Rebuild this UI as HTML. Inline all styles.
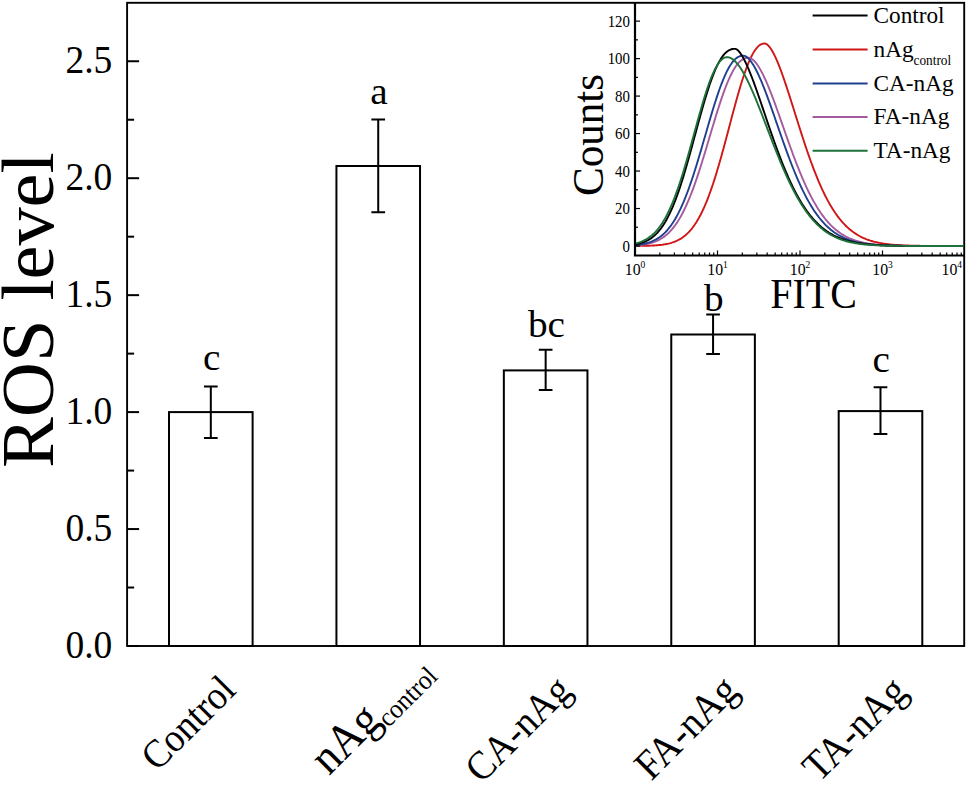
<!DOCTYPE html><html><head><meta charset="utf-8"><style>html,body{margin:0;padding:0;background:#fff;overflow:hidden;}svg{display:block;}text{font-family:"Liberation Serif",serif;fill:#000;}</style></head><body>
<svg width="968" height="785" viewBox="0 0 968 785">
<rect x="0" y="0" width="968" height="785" fill="#fff"/>
<rect x="169.01" y="412.10" width="83.60" height="233.90" fill="none" stroke="#000" stroke-width="2"/>
<rect x="336.43" y="166.00" width="83.60" height="480.00" fill="none" stroke="#000" stroke-width="2"/>
<rect x="503.85" y="370.40" width="83.60" height="275.60" fill="none" stroke="#000" stroke-width="2"/>
<rect x="671.27" y="334.50" width="83.60" height="311.50" fill="none" stroke="#000" stroke-width="2"/>
<rect x="838.69" y="411.10" width="83.60" height="234.90" fill="none" stroke="#000" stroke-width="2"/>
<rect x="127.1" y="2.8" width="837.10" height="643.20" fill="none" stroke="#000" stroke-width="1.9"/>
<path d="M210.81 386.50V438.00M203.96 386.50H217.66M203.96 438.00H217.66" stroke="#000" stroke-width="2" fill="none"/>
<path d="M378.23 119.50V212.20M371.38 119.50H385.08M371.38 212.20H385.08" stroke="#000" stroke-width="2" fill="none"/>
<path d="M545.65 349.70V390.10M538.80 349.70H552.50M538.80 390.10H552.50" stroke="#000" stroke-width="2" fill="none"/>
<path d="M713.07 314.60V354.10M706.22 314.60H719.92M706.22 354.10H719.92" stroke="#000" stroke-width="2" fill="none"/>
<path d="M880.49 387.20V434.00M873.64 387.20H887.34M873.64 434.00H887.34" stroke="#000" stroke-width="2" fill="none"/>
<text x="0" y="0" font-size="38.5" text-anchor="middle" transform="translate(211.61 370.1) scale(1.02 1)">c</text>
<text x="0" y="0" font-size="38.5" text-anchor="middle" transform="translate(379.03 103.9) scale(1.02 1)">a</text>
<text x="0" y="0" font-size="38.5" text-anchor="middle" transform="translate(546.45 336.7) scale(1.02 1)">bc</text>
<text x="0" y="0" font-size="38.5" text-anchor="middle" transform="translate(713.87 311.0) scale(1.02 1)">b</text>
<text x="0" y="0" font-size="38.5" text-anchor="middle" transform="translate(881.29 371.6) scale(1.02 1)">c</text>
<path d="M127.1 646.00H139.1" stroke="#000" stroke-width="2"/>
<path d="M127.1 587.52H134.1" stroke="#000" stroke-width="2"/>
<path d="M127.1 529.05H139.1" stroke="#000" stroke-width="2"/>
<path d="M127.1 470.57H134.1" stroke="#000" stroke-width="2"/>
<path d="M127.1 412.10H139.1" stroke="#000" stroke-width="2"/>
<path d="M127.1 353.62H134.1" stroke="#000" stroke-width="2"/>
<path d="M127.1 295.15H139.1" stroke="#000" stroke-width="2"/>
<path d="M127.1 236.68H134.1" stroke="#000" stroke-width="2"/>
<path d="M127.1 178.20H139.1" stroke="#000" stroke-width="2"/>
<path d="M127.1 119.73H134.1" stroke="#000" stroke-width="2"/>
<path d="M127.1 61.25H139.1" stroke="#000" stroke-width="2"/>
<text x="0" y="0" font-size="41" text-anchor="end" transform="translate(112.3 657.50) scale(0.915 1)">0.0</text>
<text x="0" y="0" font-size="41" text-anchor="end" transform="translate(112.3 540.55) scale(0.915 1)">0.5</text>
<text x="0" y="0" font-size="41" text-anchor="end" transform="translate(112.3 423.60) scale(0.915 1)">1.0</text>
<text x="0" y="0" font-size="41" text-anchor="end" transform="translate(112.3 306.65) scale(0.915 1)">1.5</text>
<text x="0" y="0" font-size="41" text-anchor="end" transform="translate(112.3 189.70) scale(0.915 1)">2.0</text>
<text x="0" y="0" font-size="41" text-anchor="end" transform="translate(112.3 72.75) scale(0.915 1)">2.5</text>
<text x="0" y="0" font-size="75" text-anchor="middle" transform="translate(53.2 310.2) rotate(-90) scale(1.017 1)">ROS level</text>
<text x="0" y="0" font-size="40" text-anchor="end" transform="translate(237.61 692) rotate(-45) scale(0.93 1)">Control</text>
<text x="0" y="0" font-size="47.5" text-anchor="end" transform="translate(433.23 672) rotate(-45) scale(0.93 1)">nAg<tspan font-size="0.57em" dy="0.3em">control</tspan></text>
<text x="0" y="0" font-size="40.5" text-anchor="end" transform="translate(573.25 692.5) rotate(-45) scale(0.93 1)">CA-nAg</text>
<text x="0" y="0" font-size="41.6" text-anchor="end" transform="translate(740.27 692.5) rotate(-45) scale(0.93 1)">FA-nAg</text>
<text x="0" y="0" font-size="41.4" text-anchor="end" transform="translate(909.09 693.3) rotate(-45) scale(0.93 1)">TA-nAg</text>
<path d="M635.5 245.95 L636.5 245.94 L637.5 245.93 L638.5 245.92 L639.5 245.91 L640.5 245.90 L641.5 245.89 L642.5 245.87 L643.5 245.86 L644.5 245.84 L645.5 245.81 L646.5 245.79 L647.5 245.76 L648.5 245.73 L649.5 245.70 L650.5 245.66 L651.5 245.62 L652.5 245.57 L653.5 245.51 L654.5 245.46 L655.5 245.39 L656.5 245.32 L657.5 245.24 L658.5 245.15 L659.5 245.05 L660.5 244.94 L661.5 244.82 L662.5 244.69 L663.5 244.55 L664.5 244.39 L665.5 244.22 L666.5 244.03 L667.5 243.82 L668.5 243.59 L669.5 243.35 L670.5 243.08 L671.5 242.79 L672.5 242.47 L673.5 242.13 L674.5 241.76 L675.5 241.35 L676.5 240.92 L677.5 240.45 L678.5 239.94 L679.5 239.40 L680.5 238.81 L681.5 238.19 L682.5 237.51 L683.5 236.79 L684.5 236.02 L685.5 235.20 L686.5 234.32 L687.5 233.38 L688.5 232.39 L689.5 231.33 L690.5 230.21 L691.5 229.02 L692.5 227.76 L693.5 226.43 L694.5 225.02 L695.5 223.54 L696.5 221.99 L697.5 220.35 L698.5 218.63 L699.5 216.83 L700.5 214.94 L701.5 212.97 L702.5 210.91 L703.5 208.76 L704.5 206.53 L705.5 204.20 L706.5 201.79 L707.5 199.29 L708.5 196.69 L709.5 194.01 L710.5 191.25 L711.5 188.40 L712.5 185.46 L713.5 182.44 L714.5 179.34 L715.5 176.17 L716.5 172.92 L717.5 169.60 L718.5 166.21 L719.5 162.76 L720.5 159.25 L721.5 155.69 L722.5 152.07 L723.5 148.42 L724.5 144.73 L725.5 141.00 L726.5 137.25 L727.5 133.48 L728.5 129.70 L729.5 125.91 L730.5 122.13 L731.5 118.35 L732.5 114.59 L733.5 110.85 L734.5 107.15 L735.5 103.49 L736.5 99.87 L737.5 96.31 L738.5 92.81 L739.5 89.38 L740.5 86.03 L741.5 82.77 L742.5 79.59 L743.5 76.52 L744.5 73.56 L745.5 70.70 L746.5 67.97 L747.5 65.36 L748.5 62.88 L749.5 60.54 L750.5 58.34 L751.5 56.28 L752.5 54.37 L753.5 52.61 L754.5 51.00 L755.5 49.55 L756.5 48.26 L757.5 47.12 L758.5 46.14 L759.5 45.32 L760.5 44.66 L761.5 44.15 L762.5 43.78 L763.5 43.56 L764.5 43.47 L765.5 43.60 L766.5 44.08 L767.5 44.82 L768.5 45.78 L769.5 46.95 L770.5 48.30 L771.5 49.82 L772.5 51.50 L773.5 53.33 L774.5 55.30 L775.5 57.39 L776.5 59.61 L777.5 61.94 L778.5 64.37 L779.5 66.89 L780.5 69.51 L781.5 72.20 L782.5 74.97 L783.5 77.81 L784.5 80.71 L785.5 83.67 L786.5 86.67 L787.5 89.72 L788.5 92.80 L789.5 95.91 L790.5 99.05 L791.5 102.21 L792.5 105.38 L793.5 108.57 L794.5 111.76 L795.5 114.95 L796.5 118.14 L797.5 121.32 L798.5 124.49 L799.5 127.65 L800.5 130.79 L801.5 133.90 L802.5 136.99 L803.5 140.05 L804.5 143.08 L805.5 146.08 L806.5 149.04 L807.5 151.96 L808.5 154.84 L809.5 157.68 L810.5 160.47 L811.5 163.22 L812.5 165.92 L813.5 168.57 L814.5 171.17 L815.5 173.72 L816.5 176.22 L817.5 178.66 L818.5 181.05 L819.5 183.38 L820.5 185.66 L821.5 187.89 L822.5 190.06 L823.5 192.17 L824.5 194.23 L825.5 196.24 L826.5 198.18 L827.5 200.08 L828.5 201.92 L829.5 203.70 L830.5 205.43 L831.5 207.11 L832.5 208.74 L833.5 210.31 L834.5 211.84 L835.5 213.31 L836.5 214.73 L837.5 216.11 L838.5 217.44 L839.5 218.72 L840.5 219.95 L841.5 221.14 L842.5 222.29 L843.5 223.39 L844.5 224.45 L845.5 225.47 L846.5 226.45 L847.5 227.39 L848.5 228.30 L849.5 229.16 L850.5 229.99 L851.5 230.79 L852.5 231.55 L853.5 232.29 L854.5 232.98 L855.5 233.65 L856.5 234.29 L857.5 234.90 L858.5 235.49 L859.5 236.04 L860.5 236.58 L861.5 237.08 L862.5 237.57 L863.5 238.02 L864.5 238.46 L865.5 238.88 L866.5 239.28 L867.5 239.65 L868.5 240.01 L869.5 240.35 L870.5 240.68 L871.5 240.98 L872.5 241.27 L873.5 241.55 L874.5 241.81 L875.5 242.06 L876.5 242.29 L877.5 242.51 L878.5 242.72 L879.5 242.92 L880.5 243.11 L881.5 243.29 L882.5 243.45 L883.5 243.61 L884.5 243.76 L885.5 243.90 L886.5 244.03 L887.5 244.16 L888.5 244.28 L889.5 244.39 L890.5 244.49 L891.5 244.59 L892.5 244.68 L893.5 244.77 L894.5 244.85 L895.5 244.93 L896.5 245.00 L897.5 245.06 L898.5 245.13 L899.5 245.19 L900.5 245.24 L901.5 245.29 L902.5 245.34 L903.5 245.39 L904.5 245.43 L905.5 245.47 L906.5 245.51 L907.5 245.54 L908.5 245.57 L909.5 245.60 L910.5 245.63 L911.5 245.66 L912.5 245.68 L913.5 245.71 L914.5 245.73 L915.5 245.75 L916.5 245.77 L917.5 245.78 L918.5 245.80 L919.5 245.81 L920.5 245.83 L921.5 245.84 L922.5 245.85 L923.5 245.86 L924.5 245.88 L925.5 245.88 L926.5 245.89 L927.5 245.90 L928.5 245.91 L929.5 245.92 L930.5 245.92 L931.5 245.93 L932.5 245.93 L933.5 245.94 L934.5 245.94 L935.5 245.95 L936.5 245.95 L937.5 245.96 L938.5 245.96 L939.5 245.96 L940.5 245.97 L941.5 245.97 L942.5 245.97 L943.5 245.97 L944.5 245.98 L945.5 245.98 L946.5 245.98 L947.5 245.98 L948.5 245.98 L949.5 245.98 L950.5 245.99 L951.5 245.99 L952.5 245.99 L953.5 245.99 L954.5 245.99 L955.5 245.99 L956.5 245.99 L957.5 245.99 L958.5 245.99 L959.5 245.99 L960.5 245.99 L961.5 245.99 L962.5 246.00 L963.5 246.00" stroke="#d01616" stroke-width="1.9" fill="none" stroke-linejoin="round"/>
<path d="M635.5 245.38 L636.5 245.31 L637.5 245.23 L638.5 245.14 L639.5 245.04 L640.5 244.93 L641.5 244.81 L642.5 244.68 L643.5 244.54 L644.5 244.39 L645.5 244.22 L646.5 244.03 L647.5 243.83 L648.5 243.61 L649.5 243.37 L650.5 243.11 L651.5 242.83 L652.5 242.52 L653.5 242.19 L654.5 241.83 L655.5 241.44 L656.5 241.03 L657.5 240.58 L658.5 240.09 L659.5 239.58 L660.5 239.02 L661.5 238.42 L662.5 237.79 L663.5 237.11 L664.5 236.38 L665.5 235.61 L666.5 234.78 L667.5 233.91 L668.5 232.98 L669.5 231.99 L670.5 230.95 L671.5 229.84 L672.5 228.68 L673.5 227.45 L674.5 226.15 L675.5 224.79 L676.5 223.36 L677.5 221.86 L678.5 220.28 L679.5 218.63 L680.5 216.91 L681.5 215.12 L682.5 213.24 L683.5 211.30 L684.5 209.27 L685.5 207.17 L686.5 204.99 L687.5 202.73 L688.5 200.39 L689.5 197.98 L690.5 195.50 L691.5 192.94 L692.5 190.31 L693.5 187.61 L694.5 184.84 L695.5 182.00 L696.5 179.11 L697.5 176.15 L698.5 173.13 L699.5 170.06 L700.5 166.94 L701.5 163.77 L702.5 160.56 L703.5 157.32 L704.5 154.04 L705.5 150.73 L706.5 147.40 L707.5 144.05 L708.5 140.69 L709.5 137.33 L710.5 133.96 L711.5 130.60 L712.5 127.25 L713.5 123.92 L714.5 120.61 L715.5 117.33 L716.5 114.09 L717.5 110.89 L718.5 107.74 L719.5 104.64 L720.5 101.60 L721.5 98.63 L722.5 95.73 L723.5 92.91 L724.5 90.17 L725.5 87.53 L726.5 84.97 L727.5 82.51 L728.5 80.16 L729.5 77.91 L730.5 75.77 L731.5 73.74 L732.5 71.83 L733.5 70.04 L734.5 68.37 L735.5 66.82 L736.5 65.40 L737.5 64.10 L738.5 62.93 L739.5 61.89 L740.5 60.97 L741.5 60.18 L742.5 59.50 L743.5 58.95 L744.5 58.51 L745.5 58.19 L746.5 57.97 L747.5 57.85 L748.5 57.81 L749.5 57.94 L750.5 58.27 L751.5 58.79 L752.5 59.47 L753.5 60.31 L754.5 61.29 L755.5 62.41 L756.5 63.66 L757.5 65.04 L758.5 66.53 L759.5 68.15 L760.5 69.87 L761.5 71.69 L762.5 73.61 L763.5 75.62 L764.5 77.72 L765.5 79.91 L766.5 82.17 L767.5 84.50 L768.5 86.90 L769.5 89.36 L770.5 91.89 L771.5 94.46 L772.5 97.08 L773.5 99.74 L774.5 102.45 L775.5 105.18 L776.5 107.95 L777.5 110.74 L778.5 113.55 L779.5 116.38 L780.5 119.22 L781.5 122.08 L782.5 124.93 L783.5 127.79 L784.5 130.64 L785.5 133.49 L786.5 136.33 L787.5 139.16 L788.5 141.97 L789.5 144.77 L790.5 147.54 L791.5 150.29 L792.5 153.01 L793.5 155.71 L794.5 158.37 L795.5 161.00 L796.5 163.60 L797.5 166.16 L798.5 168.68 L799.5 171.16 L800.5 173.60 L801.5 175.99 L802.5 178.35 L803.5 180.65 L804.5 182.92 L805.5 185.13 L806.5 187.30 L807.5 189.42 L808.5 191.49 L809.5 193.51 L810.5 195.48 L811.5 197.41 L812.5 199.28 L813.5 201.10 L814.5 202.88 L815.5 204.60 L816.5 206.28 L817.5 207.91 L818.5 209.49 L819.5 211.02 L820.5 212.50 L821.5 213.94 L822.5 215.33 L823.5 216.67 L824.5 217.97 L825.5 219.22 L826.5 220.43 L827.5 221.60 L828.5 222.73 L829.5 223.81 L830.5 224.86 L831.5 225.86 L832.5 226.83 L833.5 227.76 L834.5 228.65 L835.5 229.51 L836.5 230.33 L837.5 231.12 L838.5 231.87 L839.5 232.59 L840.5 233.29 L841.5 233.95 L842.5 234.58 L843.5 235.18 L844.5 235.76 L845.5 236.31 L846.5 236.84 L847.5 237.34 L848.5 237.82 L849.5 238.27 L850.5 238.71 L851.5 239.12 L852.5 239.51 L853.5 239.88 L854.5 240.24 L855.5 240.57 L856.5 240.89 L857.5 241.19 L858.5 241.48 L859.5 241.75 L860.5 242.01 L861.5 242.25 L862.5 242.48 L863.5 242.70 L864.5 242.90 L865.5 243.09 L866.5 243.28 L867.5 243.45 L868.5 243.61 L869.5 243.77 L870.5 243.91 L871.5 244.05 L872.5 244.17 L873.5 244.29 L874.5 244.41 L875.5 244.51 L876.5 244.61 L877.5 244.71 L878.5 244.80 L879.5 244.88 L880.5 244.95 L881.5 245.03 L882.5 245.09 L883.5 245.16 L884.5 245.22 L885.5 245.27 L886.5 245.32 L887.5 245.37 L888.5 245.42 L889.5 245.46 L890.5 245.50 L891.5 245.54 L892.5 245.57 L893.5 245.60 L894.5 245.63 L895.5 245.66 L896.5 245.69 L897.5 245.71 L898.5 245.73 L899.5 245.75 L900.5 245.77 L901.5 245.79 L902.5 245.80 L903.5 245.82 L904.5 245.83 L905.5 245.85 L906.5 245.86 L907.5 245.87 L908.5 245.88 L909.5 245.89 L910.5 245.90 L911.5 245.91 L912.5 245.92 L913.5 245.92 L914.5 245.93 L915.5 245.93 L916.5 245.94 L917.5 245.94 L918.5 245.95 L919.5 245.95 L920.5 245.96 L921.5 245.96 L922.5 245.96 L923.5 245.97 L924.5 245.97 L925.5 245.97 L926.5 245.98 L927.5 245.98 L928.5 245.98 L929.5 245.98 L930.5 245.98 L931.5 245.98 L932.5 245.99 L933.5 245.99 L934.5 245.99 L935.5 245.99 L936.5 245.99 L937.5 245.99 L938.5 245.99 L939.5 245.99 L940.5 245.99 L941.5 245.99 L942.5 245.99 L943.5 246.00 L944.5 246.00 L945.5 246.00 L946.5 246.00 L947.5 246.00 L948.5 246.00 L949.5 246.00 L950.5 246.00 L951.5 246.00 L952.5 246.00 L953.5 246.00 L954.5 246.00 L955.5 246.00 L956.5 246.00 L957.5 246.00 L958.5 246.00 L959.5 246.00 L960.5 246.00 L961.5 246.00 L962.5 246.00 L963.5 246.00" stroke="#a55a9e" stroke-width="1.9" fill="none" stroke-linejoin="round"/>
<path d="M635.5 245.10 L636.5 245.00 L637.5 244.88 L638.5 244.76 L639.5 244.62 L640.5 244.47 L641.5 244.30 L642.5 244.12 L643.5 243.93 L644.5 243.71 L645.5 243.48 L646.5 243.22 L647.5 242.94 L648.5 242.64 L649.5 242.31 L650.5 241.96 L651.5 241.57 L652.5 241.16 L653.5 240.71 L654.5 240.23 L655.5 239.71 L656.5 239.16 L657.5 238.56 L658.5 237.92 L659.5 237.24 L660.5 236.51 L661.5 235.73 L662.5 234.90 L663.5 234.01 L664.5 233.07 L665.5 232.07 L666.5 231.01 L667.5 229.89 L668.5 228.70 L669.5 227.45 L670.5 226.13 L671.5 224.74 L672.5 223.28 L673.5 221.75 L674.5 220.14 L675.5 218.45 L676.5 216.69 L677.5 214.84 L678.5 212.92 L679.5 210.92 L680.5 208.84 L681.5 206.67 L682.5 204.43 L683.5 202.10 L684.5 199.70 L685.5 197.22 L686.5 194.65 L687.5 192.01 L688.5 189.30 L689.5 186.51 L690.5 183.65 L691.5 180.73 L692.5 177.73 L693.5 174.68 L694.5 171.56 L695.5 168.39 L696.5 165.17 L697.5 161.90 L698.5 158.59 L699.5 155.24 L700.5 151.86 L701.5 148.44 L702.5 145.01 L703.5 141.56 L704.5 138.10 L705.5 134.64 L706.5 131.18 L707.5 127.72 L708.5 124.29 L709.5 120.87 L710.5 117.48 L711.5 114.12 L712.5 110.81 L713.5 107.54 L714.5 104.33 L715.5 101.18 L716.5 98.09 L717.5 95.08 L718.5 92.15 L719.5 89.30 L720.5 86.54 L721.5 83.88 L722.5 81.32 L723.5 78.86 L724.5 76.52 L725.5 74.29 L726.5 72.17 L727.5 70.18 L728.5 68.32 L729.5 66.57 L730.5 64.96 L731.5 63.48 L732.5 62.13 L733.5 60.91 L734.5 59.83 L735.5 58.87 L736.5 58.05 L737.5 57.35 L738.5 56.79 L739.5 56.34 L740.5 56.01 L741.5 55.79 L742.5 55.67 L743.5 55.65 L744.5 55.83 L745.5 56.23 L746.5 56.83 L747.5 57.60 L748.5 58.52 L749.5 59.60 L750.5 60.82 L751.5 62.18 L752.5 63.66 L753.5 65.26 L754.5 66.98 L755.5 68.81 L756.5 70.73 L757.5 72.76 L758.5 74.87 L759.5 77.07 L760.5 79.36 L761.5 81.71 L762.5 84.13 L763.5 86.62 L764.5 89.17 L765.5 91.77 L766.5 94.42 L767.5 97.11 L768.5 99.84 L769.5 102.61 L770.5 105.41 L771.5 108.23 L772.5 111.07 L773.5 113.93 L774.5 116.80 L775.5 119.69 L776.5 122.57 L777.5 125.46 L778.5 128.34 L779.5 131.22 L780.5 134.09 L781.5 136.95 L782.5 139.79 L783.5 142.61 L784.5 145.41 L785.5 148.19 L786.5 150.94 L787.5 153.66 L788.5 156.35 L789.5 159.01 L790.5 161.63 L791.5 164.22 L792.5 166.77 L793.5 169.27 L794.5 171.74 L795.5 174.16 L796.5 176.54 L797.5 178.87 L798.5 181.16 L799.5 183.40 L800.5 185.59 L801.5 187.74 L802.5 189.84 L803.5 191.88 L804.5 193.88 L805.5 195.83 L806.5 197.73 L807.5 199.58 L808.5 201.38 L809.5 203.13 L810.5 204.84 L811.5 206.49 L812.5 208.10 L813.5 209.65 L814.5 211.16 L815.5 212.63 L816.5 214.04 L817.5 215.42 L818.5 216.74 L819.5 218.02 L820.5 219.26 L821.5 220.45 L822.5 221.61 L823.5 222.72 L824.5 223.79 L825.5 224.82 L826.5 225.81 L827.5 226.77 L828.5 227.69 L829.5 228.57 L830.5 229.42 L831.5 230.23 L832.5 231.01 L833.5 231.76 L834.5 232.47 L835.5 233.16 L836.5 233.82 L837.5 234.45 L838.5 235.05 L839.5 235.62 L840.5 236.17 L841.5 236.69 L842.5 237.19 L843.5 237.67 L844.5 238.12 L845.5 238.56 L846.5 238.97 L847.5 239.36 L848.5 239.73 L849.5 240.09 L850.5 240.42 L851.5 240.74 L852.5 241.05 L853.5 241.34 L854.5 241.61 L855.5 241.87 L856.5 242.11 L857.5 242.35 L858.5 242.57 L859.5 242.77 L860.5 242.97 L861.5 243.16 L862.5 243.33 L863.5 243.50 L864.5 243.66 L865.5 243.80 L866.5 243.94 L867.5 244.07 L868.5 244.20 L869.5 244.31 L870.5 244.42 L871.5 244.53 L872.5 244.62 L873.5 244.71 L874.5 244.80 L875.5 244.88 L876.5 244.96 L877.5 245.03 L878.5 245.09 L879.5 245.15 L880.5 245.21 L881.5 245.27 L882.5 245.32 L883.5 245.37 L884.5 245.41 L885.5 245.45 L886.5 245.49 L887.5 245.53 L888.5 245.56 L889.5 245.59 L890.5 245.62 L891.5 245.65 L892.5 245.68 L893.5 245.70 L894.5 245.72 L895.5 245.74 L896.5 245.76 L897.5 245.78 L898.5 245.80 L899.5 245.81 L900.5 245.83 L901.5 245.84 L902.5 245.85 L903.5 245.86 L904.5 245.87 L905.5 245.88 L906.5 245.89 L907.5 245.90 L908.5 245.91 L909.5 245.92 L910.5 245.92 L911.5 245.93 L912.5 245.93 L913.5 245.94 L914.5 245.95 L915.5 245.95 L916.5 245.95 L917.5 245.96 L918.5 245.96 L919.5 245.96 L920.5 245.97 L921.5 245.97 L922.5 245.97 L923.5 245.97 L924.5 245.98 L925.5 245.98 L926.5 245.98 L927.5 245.98 L928.5 245.98 L929.5 245.99 L930.5 245.99 L931.5 245.99 L932.5 245.99 L933.5 245.99 L934.5 245.99 L935.5 245.99 L936.5 245.99 L937.5 245.99 L938.5 245.99 L939.5 245.99 L940.5 245.99 L941.5 246.00 L942.5 246.00 L943.5 246.00 L944.5 246.00 L945.5 246.00 L946.5 246.00 L947.5 246.00 L948.5 246.00 L949.5 246.00 L950.5 246.00 L951.5 246.00 L952.5 246.00 L953.5 246.00 L954.5 246.00 L955.5 246.00 L956.5 246.00 L957.5 246.00 L958.5 246.00 L959.5 246.00 L960.5 246.00 L961.5 246.00 L962.5 246.00 L963.5 246.00" stroke="#1f3f8f" stroke-width="1.9" fill="none" stroke-linejoin="round"/>
<path d="M635.5 244.39 L636.5 244.20 L637.5 243.99 L638.5 243.75 L639.5 243.50 L640.5 243.22 L641.5 242.91 L642.5 242.58 L643.5 242.22 L644.5 241.82 L645.5 241.38 L646.5 240.91 L647.5 240.40 L648.5 239.85 L649.5 239.26 L650.5 238.61 L651.5 237.92 L652.5 237.17 L653.5 236.37 L654.5 235.51 L655.5 234.59 L656.5 233.60 L657.5 232.55 L658.5 231.43 L659.5 230.24 L660.5 228.97 L661.5 227.63 L662.5 226.21 L663.5 224.71 L664.5 223.13 L665.5 221.46 L666.5 219.70 L667.5 217.85 L668.5 215.92 L669.5 213.90 L670.5 211.78 L671.5 209.57 L672.5 207.27 L673.5 204.88 L674.5 202.39 L675.5 199.82 L676.5 197.15 L677.5 194.40 L678.5 191.56 L679.5 188.63 L680.5 185.62 L681.5 182.53 L682.5 179.37 L683.5 176.13 L684.5 172.83 L685.5 169.46 L686.5 166.03 L687.5 162.54 L688.5 159.01 L689.5 155.43 L690.5 151.81 L691.5 148.17 L692.5 144.49 L693.5 140.80 L694.5 137.10 L695.5 133.39 L696.5 129.69 L697.5 125.99 L698.5 122.31 L699.5 118.66 L700.5 115.04 L701.5 111.46 L702.5 107.92 L703.5 104.44 L704.5 101.02 L705.5 97.67 L706.5 94.39 L707.5 91.20 L708.5 88.09 L709.5 85.07 L710.5 82.16 L711.5 79.35 L712.5 76.64 L713.5 74.06 L714.5 71.59 L715.5 69.24 L716.5 67.02 L717.5 64.92 L718.5 62.96 L719.5 61.12 L720.5 59.43 L721.5 57.86 L722.5 56.43 L723.5 55.13 L724.5 53.96 L725.5 52.92 L726.5 52.02 L727.5 51.23 L728.5 50.57 L729.5 50.03 L730.5 49.60 L731.5 49.27 L732.5 49.04 L733.5 48.90 L734.5 48.84 L735.5 48.86 L736.5 49.27 L737.5 49.98 L738.5 50.93 L739.5 52.08 L740.5 53.41 L741.5 54.91 L742.5 56.55 L743.5 58.33 L744.5 60.24 L745.5 62.27 L746.5 64.40 L747.5 66.63 L748.5 68.95 L749.5 71.36 L750.5 73.84 L751.5 76.39 L752.5 79.01 L753.5 81.68 L754.5 84.40 L755.5 87.17 L756.5 89.98 L757.5 92.82 L758.5 95.70 L759.5 98.59 L760.5 101.51 L761.5 104.44 L762.5 107.39 L763.5 110.34 L764.5 113.30 L765.5 116.25 L766.5 119.20 L767.5 122.14 L768.5 125.08 L769.5 127.99 L770.5 130.89 L771.5 133.78 L772.5 136.63 L773.5 139.47 L774.5 142.28 L775.5 145.05 L776.5 147.80 L777.5 150.51 L778.5 153.19 L779.5 155.83 L780.5 158.44 L781.5 161.00 L782.5 163.53 L783.5 166.01 L784.5 168.45 L785.5 170.84 L786.5 173.20 L787.5 175.50 L788.5 177.76 L789.5 179.98 L790.5 182.14 L791.5 184.26 L792.5 186.34 L793.5 188.36 L794.5 190.34 L795.5 192.27 L796.5 194.16 L797.5 195.99 L798.5 197.78 L799.5 199.53 L800.5 201.23 L801.5 202.88 L802.5 204.48 L803.5 206.04 L804.5 207.56 L805.5 209.03 L806.5 210.46 L807.5 211.84 L808.5 213.18 L809.5 214.49 L810.5 215.75 L811.5 216.97 L812.5 218.15 L813.5 219.29 L814.5 220.39 L815.5 221.46 L816.5 222.49 L817.5 223.49 L818.5 224.45 L819.5 225.37 L820.5 226.26 L821.5 227.13 L822.5 227.95 L823.5 228.75 L824.5 229.52 L825.5 230.26 L826.5 230.97 L827.5 231.66 L828.5 232.31 L829.5 232.95 L830.5 233.55 L831.5 234.13 L832.5 234.69 L833.5 235.23 L834.5 235.74 L835.5 236.23 L836.5 236.71 L837.5 237.16 L838.5 237.59 L839.5 238.00 L840.5 238.40 L841.5 238.78 L842.5 239.14 L843.5 239.48 L844.5 239.81 L845.5 240.13 L846.5 240.43 L847.5 240.72 L848.5 240.99 L849.5 241.25 L850.5 241.50 L851.5 241.74 L852.5 241.96 L853.5 242.18 L854.5 242.38 L855.5 242.58 L856.5 242.76 L857.5 242.94 L858.5 243.11 L859.5 243.27 L860.5 243.42 L861.5 243.56 L862.5 243.70 L863.5 243.83 L864.5 243.95 L865.5 244.06 L866.5 244.17 L867.5 244.28 L868.5 244.38 L869.5 244.47 L870.5 244.56 L871.5 244.64 L872.5 244.72 L873.5 244.80 L874.5 244.87 L875.5 244.94 L876.5 245.00 L877.5 245.06 L878.5 245.12 L879.5 245.17 L880.5 245.22 L881.5 245.27 L882.5 245.31 L883.5 245.35 L884.5 245.39 L885.5 245.43 L886.5 245.47 L887.5 245.50 L888.5 245.53 L889.5 245.56 L890.5 245.59 L891.5 245.61 L892.5 245.64 L893.5 245.66 L894.5 245.68 L895.5 245.70 L896.5 245.72 L897.5 245.74 L898.5 245.76 L899.5 245.77 L900.5 245.79 L901.5 245.80 L902.5 245.82 L903.5 245.83 L904.5 245.84 L905.5 245.85 L906.5 245.86 L907.5 245.87 L908.5 245.88 L909.5 245.89 L910.5 245.89 L911.5 245.90 L912.5 245.91 L913.5 245.91 L914.5 245.92 L915.5 245.93 L916.5 245.93 L917.5 245.94 L918.5 245.94 L919.5 245.94 L920.5 245.95 L921.5 245.95 L922.5 245.96 L923.5 245.96 L924.5 245.96 L925.5 245.96 L926.5 245.97 L927.5 245.97 L928.5 245.97 L929.5 245.97 L930.5 245.98 L931.5 245.98 L932.5 245.98 L933.5 245.98 L934.5 245.98 L935.5 245.98 L936.5 245.98 L937.5 245.99 L938.5 245.99 L939.5 245.99 L940.5 245.99 L941.5 245.99 L942.5 245.99 L943.5 245.99 L944.5 245.99 L945.5 245.99 L946.5 245.99 L947.5 245.99 L948.5 245.99 L949.5 245.99 L950.5 245.99 L951.5 246.00 L952.5 246.00 L953.5 246.00 L954.5 246.00 L955.5 246.00 L956.5 246.00 L957.5 246.00 L958.5 246.00 L959.5 246.00 L960.5 246.00 L961.5 246.00 L962.5 246.00 L963.5 246.00" stroke="#000000" stroke-width="1.9" fill="none" stroke-linejoin="round"/>
<path d="M635.5 243.48 L636.5 243.22 L637.5 242.94 L638.5 242.63 L639.5 242.30 L640.5 241.94 L641.5 241.55 L642.5 241.13 L643.5 240.68 L644.5 240.19 L645.5 239.66 L646.5 239.10 L647.5 238.49 L648.5 237.83 L649.5 237.13 L650.5 236.38 L651.5 235.58 L652.5 234.73 L653.5 233.81 L654.5 232.84 L655.5 231.81 L656.5 230.71 L657.5 229.55 L658.5 228.32 L659.5 227.02 L660.5 225.64 L661.5 224.19 L662.5 222.67 L663.5 221.06 L664.5 219.37 L665.5 217.60 L666.5 215.75 L667.5 213.81 L668.5 211.79 L669.5 209.68 L670.5 207.48 L671.5 205.19 L672.5 202.82 L673.5 200.35 L674.5 197.80 L675.5 195.17 L676.5 192.44 L677.5 189.64 L678.5 186.75 L679.5 183.78 L680.5 180.74 L681.5 177.62 L682.5 174.43 L683.5 171.17 L684.5 167.85 L685.5 164.47 L686.5 161.03 L687.5 157.55 L688.5 154.02 L689.5 150.45 L690.5 146.85 L691.5 143.23 L692.5 139.58 L693.5 135.93 L694.5 132.27 L695.5 128.61 L696.5 124.96 L697.5 121.34 L698.5 117.73 L699.5 114.17 L700.5 110.64 L701.5 107.17 L702.5 103.75 L703.5 100.40 L704.5 97.13 L705.5 93.93 L706.5 90.83 L707.5 87.83 L708.5 84.94 L709.5 82.16 L710.5 79.49 L711.5 76.96 L712.5 74.56 L713.5 72.29 L714.5 70.17 L715.5 68.20 L716.5 66.39 L717.5 64.73 L718.5 63.23 L719.5 61.90 L720.5 60.73 L721.5 59.72 L722.5 58.89 L723.5 58.22 L724.5 57.72 L725.5 57.38 L726.5 57.20 L727.5 57.17 L728.5 57.30 L729.5 57.57 L730.5 57.96 L731.5 58.49 L732.5 59.13 L733.5 59.88 L734.5 60.75 L735.5 61.72 L736.5 62.80 L737.5 63.97 L738.5 65.24 L739.5 66.61 L740.5 68.07 L741.5 69.61 L742.5 71.23 L743.5 72.94 L744.5 74.72 L745.5 76.58 L746.5 78.50 L747.5 80.50 L748.5 82.55 L749.5 84.67 L750.5 86.84 L751.5 89.06 L752.5 91.33 L753.5 93.65 L754.5 96.01 L755.5 98.41 L756.5 100.85 L757.5 103.32 L758.5 105.81 L759.5 108.33 L760.5 110.88 L761.5 113.44 L762.5 116.02 L763.5 118.61 L764.5 121.22 L765.5 123.82 L766.5 126.44 L767.5 129.05 L768.5 131.67 L769.5 134.27 L770.5 136.88 L771.5 139.47 L772.5 142.05 L773.5 144.62 L774.5 147.17 L775.5 149.71 L776.5 152.22 L777.5 154.71 L778.5 157.18 L779.5 159.62 L780.5 162.03 L781.5 164.42 L782.5 166.77 L783.5 169.10 L784.5 171.38 L785.5 173.64 L786.5 175.86 L787.5 178.04 L788.5 180.19 L789.5 182.30 L790.5 184.36 L791.5 186.39 L792.5 188.38 L793.5 190.33 L794.5 192.24 L795.5 194.10 L796.5 195.93 L797.5 197.71 L798.5 199.45 L799.5 201.14 L800.5 202.80 L801.5 204.41 L802.5 205.98 L803.5 207.51 L804.5 209.00 L805.5 210.44 L806.5 211.84 L807.5 213.21 L808.5 214.53 L809.5 215.82 L810.5 217.06 L811.5 218.26 L812.5 219.43 L813.5 220.56 L814.5 221.65 L815.5 222.71 L816.5 223.73 L817.5 224.71 L818.5 225.66 L819.5 226.58 L820.5 227.46 L821.5 228.31 L822.5 229.13 L823.5 229.92 L824.5 230.67 L825.5 231.40 L826.5 232.10 L827.5 232.78 L828.5 233.42 L829.5 234.04 L830.5 234.63 L831.5 235.20 L832.5 235.75 L833.5 236.27 L834.5 236.77 L835.5 237.24 L836.5 237.70 L837.5 238.14 L838.5 238.55 L839.5 238.95 L840.5 239.33 L841.5 239.69 L842.5 240.03 L843.5 240.36 L844.5 240.67 L845.5 240.97 L846.5 241.25 L847.5 241.52 L848.5 241.78 L849.5 242.02 L850.5 242.25 L851.5 242.47 L852.5 242.67 L853.5 242.87 L854.5 243.05 L855.5 243.23 L856.5 243.40 L857.5 243.55 L858.5 243.70 L859.5 243.84 L860.5 243.98 L861.5 244.10 L862.5 244.22 L863.5 244.33 L864.5 244.44 L865.5 244.54 L866.5 244.63 L867.5 244.72 L868.5 244.80 L869.5 244.88 L870.5 244.96 L871.5 245.02 L872.5 245.09 L873.5 245.15 L874.5 245.21 L875.5 245.26 L876.5 245.31 L877.5 245.36 L878.5 245.40 L879.5 245.44 L880.5 245.48 L881.5 245.52 L882.5 245.55 L883.5 245.58 L884.5 245.61 L885.5 245.64 L886.5 245.67 L887.5 245.69 L888.5 245.71 L889.5 245.73 L890.5 245.75 L891.5 245.77 L892.5 245.79 L893.5 245.80 L894.5 245.82 L895.5 245.83 L896.5 245.85 L897.5 245.86 L898.5 245.87 L899.5 245.88 L900.5 245.89 L901.5 245.90 L902.5 245.90 L903.5 245.91 L904.5 245.92 L905.5 245.93 L906.5 245.93 L907.5 245.94 L908.5 245.94 L909.5 245.95 L910.5 245.95 L911.5 245.95 L912.5 245.96 L913.5 245.96 L914.5 245.97 L915.5 245.97 L916.5 245.97 L917.5 245.97 L918.5 245.98 L919.5 245.98 L920.5 245.98 L921.5 245.98 L922.5 245.98 L923.5 245.98 L924.5 245.99 L925.5 245.99 L926.5 245.99 L927.5 245.99 L928.5 245.99 L929.5 245.99 L930.5 245.99 L931.5 245.99 L932.5 245.99 L933.5 245.99 L934.5 245.99 L935.5 245.99 L936.5 246.00 L937.5 246.00 L938.5 246.00 L939.5 246.00 L940.5 246.00 L941.5 246.00 L942.5 246.00 L943.5 246.00 L944.5 246.00 L945.5 246.00 L946.5 246.00 L947.5 246.00 L948.5 246.00 L949.5 246.00 L950.5 246.00 L951.5 246.00 L952.5 246.00 L953.5 246.00 L954.5 246.00 L955.5 246.00 L956.5 246.00 L957.5 246.00 L958.5 246.00 L959.5 246.00 L960.5 246.00 L961.5 246.00 L962.5 246.00 L963.5 246.00" stroke="#1f713b" stroke-width="1.9" fill="none" stroke-linejoin="round"/>
<path d="M635 2.8V255.5H964.2" stroke="#000" stroke-width="2.2" fill="none"/>
<path d="M635 246.00H640" stroke="#000" stroke-width="1.2"/>
<path d="M635 227.26H638" stroke="#000" stroke-width="1.2"/>
<path d="M635 208.52H640" stroke="#000" stroke-width="1.2"/>
<path d="M635 189.78H638" stroke="#000" stroke-width="1.2"/>
<path d="M635 171.04H640" stroke="#000" stroke-width="1.2"/>
<path d="M635 152.30H638" stroke="#000" stroke-width="1.2"/>
<path d="M635 133.56H640" stroke="#000" stroke-width="1.2"/>
<path d="M635 114.82H638" stroke="#000" stroke-width="1.2"/>
<path d="M635 96.08H640" stroke="#000" stroke-width="1.2"/>
<path d="M635 77.34H638" stroke="#000" stroke-width="1.2"/>
<path d="M635 58.60H640" stroke="#000" stroke-width="1.2"/>
<path d="M635 39.86H638" stroke="#000" stroke-width="1.2"/>
<path d="M635 21.12H640" stroke="#000" stroke-width="1.2"/>
<text x="0" y="0" font-size="17" text-anchor="end" transform="translate(630 251.80) scale(0.876 1)">0</text>
<text x="0" y="0" font-size="17" text-anchor="end" transform="translate(630 214.32) scale(0.876 1)">20</text>
<text x="0" y="0" font-size="17" text-anchor="end" transform="translate(630 176.84) scale(0.876 1)">40</text>
<text x="0" y="0" font-size="17" text-anchor="end" transform="translate(630 139.36) scale(0.876 1)">60</text>
<text x="0" y="0" font-size="17" text-anchor="end" transform="translate(630 101.88) scale(0.876 1)">80</text>
<text x="0" y="0" font-size="17" text-anchor="end" transform="translate(630 64.40) scale(0.876 1)">100</text>
<text x="0" y="0" font-size="17" text-anchor="end" transform="translate(630 26.92) scale(0.876 1)">120</text>
<path d="M635.00 255.5V250.5" stroke="#000" stroke-width="1.2"/>
<path d="M659.83 255.5V252.5" stroke="#000" stroke-width="1.2"/>
<path d="M674.36 255.5V252.5" stroke="#000" stroke-width="1.2"/>
<path d="M684.67 255.5V252.5" stroke="#000" stroke-width="1.2"/>
<path d="M692.67 255.5V252.5" stroke="#000" stroke-width="1.2"/>
<path d="M699.20 255.5V252.5" stroke="#000" stroke-width="1.2"/>
<path d="M704.72 255.5V252.5" stroke="#000" stroke-width="1.2"/>
<path d="M709.50 255.5V252.5" stroke="#000" stroke-width="1.2"/>
<path d="M713.73 255.5V252.5" stroke="#000" stroke-width="1.2"/>
<path d="M717.50 255.5V250.5" stroke="#000" stroke-width="1.2"/>
<path d="M742.33 255.5V252.5" stroke="#000" stroke-width="1.2"/>
<path d="M756.86 255.5V252.5" stroke="#000" stroke-width="1.2"/>
<path d="M767.17 255.5V252.5" stroke="#000" stroke-width="1.2"/>
<path d="M775.17 255.5V252.5" stroke="#000" stroke-width="1.2"/>
<path d="M781.70 255.5V252.5" stroke="#000" stroke-width="1.2"/>
<path d="M787.22 255.5V252.5" stroke="#000" stroke-width="1.2"/>
<path d="M792.00 255.5V252.5" stroke="#000" stroke-width="1.2"/>
<path d="M796.23 255.5V252.5" stroke="#000" stroke-width="1.2"/>
<path d="M800.00 255.5V250.5" stroke="#000" stroke-width="1.2"/>
<path d="M824.83 255.5V252.5" stroke="#000" stroke-width="1.2"/>
<path d="M839.36 255.5V252.5" stroke="#000" stroke-width="1.2"/>
<path d="M849.67 255.5V252.5" stroke="#000" stroke-width="1.2"/>
<path d="M857.67 255.5V252.5" stroke="#000" stroke-width="1.2"/>
<path d="M864.20 255.5V252.5" stroke="#000" stroke-width="1.2"/>
<path d="M869.72 255.5V252.5" stroke="#000" stroke-width="1.2"/>
<path d="M874.50 255.5V252.5" stroke="#000" stroke-width="1.2"/>
<path d="M878.73 255.5V252.5" stroke="#000" stroke-width="1.2"/>
<path d="M882.50 255.5V250.5" stroke="#000" stroke-width="1.2"/>
<path d="M907.33 255.5V252.5" stroke="#000" stroke-width="1.2"/>
<path d="M921.86 255.5V252.5" stroke="#000" stroke-width="1.2"/>
<path d="M932.17 255.5V252.5" stroke="#000" stroke-width="1.2"/>
<path d="M940.17 255.5V252.5" stroke="#000" stroke-width="1.2"/>
<path d="M946.70 255.5V252.5" stroke="#000" stroke-width="1.2"/>
<path d="M952.22 255.5V252.5" stroke="#000" stroke-width="1.2"/>
<path d="M957.00 255.5V252.5" stroke="#000" stroke-width="1.2"/>
<path d="M961.23 255.5V252.5" stroke="#000" stroke-width="1.2"/>
<text x="0" y="0" font-size="15.8" text-anchor="middle" transform="translate(635.00 274.6)">10<tspan font-size="9.5" dy="-7">0</tspan></text>
<text x="0" y="0" font-size="15.8" text-anchor="middle" transform="translate(717.50 274.6)">10<tspan font-size="9.5" dy="-7">1</tspan></text>
<text x="0" y="0" font-size="15.8" text-anchor="middle" transform="translate(800.00 274.6)">10<tspan font-size="9.5" dy="-7">2</tspan></text>
<text x="0" y="0" font-size="15.8" text-anchor="middle" transform="translate(882.50 274.6)">10<tspan font-size="9.5" dy="-7">3</tspan></text>
<text x="0" y="0" font-size="15.8" text-anchor="middle" transform="translate(951.80 274.6)">10<tspan font-size="9.5" dy="-7">4</tspan></text>
<text x="0" y="0" font-size="43" text-anchor="middle" transform="translate(813.6 308.3) scale(0.93 1)">FITC</text>
<text x="0" y="0" font-size="44" text-anchor="middle" transform="translate(603 135) rotate(-90) scale(0.98 1)">Counts</text>
<path d="M812.6 15.4H867.6" stroke="#000000" stroke-width="2"/>
<text x="0" y="0" font-size="24" transform="translate(873.5 22.70) scale(0.97 1)">Control</text>
<path d="M812.6 49.6H867.6" stroke="#d01616" stroke-width="2"/>
<text x="0" y="0" font-size="24" transform="translate(873.5 56.90) scale(0.97 1)">nAg<tspan font-size="13.7" dy="8.3">control</tspan></text>
<path d="M812.6 83.5H867.6" stroke="#1f3f8f" stroke-width="2"/>
<text x="0" y="0" font-size="24" transform="translate(873.5 90.80) scale(0.97 1)">CA-nAg</text>
<path d="M812.6 117.1H867.6" stroke="#a55a9e" stroke-width="2"/>
<text x="0" y="0" font-size="24" transform="translate(873.5 124.40) scale(0.97 1)">FA-nAg</text>
<path d="M812.6 150.8H867.6" stroke="#1f713b" stroke-width="2"/>
<text x="0" y="0" font-size="24" transform="translate(873.5 158.10) scale(0.97 1)">TA-nAg</text>
</svg></body></html>
